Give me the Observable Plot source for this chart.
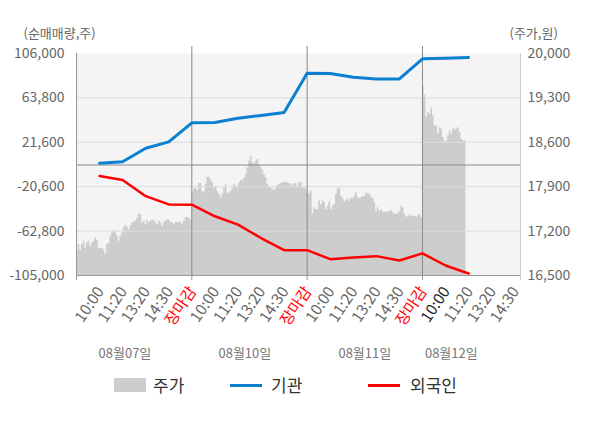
<!DOCTYPE html>
<html><head><meta charset="utf-8">
<script src="https://cdn.jsdelivr.net/npm/d3@7"></script>
<script src="https://cdn.jsdelivr.net/npm/@observablehq/plot@0.6"></script>
<style>
body{margin:0;background:#fff;font-family:"Noto Sans CJK KR",sans-serif;}
#wrap{position:relative;width:600px;height:428px;overflow:hidden;}
.lg{position:absolute;font-size:17px;color:#333;line-height:20px;}
.sw{position:absolute;}
</style></head><body>
<div id="wrap"><div id="chart"></div>
<div class="sw" style="left:114px;top:378px;width:32px;height:14px;background:#cdcdcd"></div>
<div class="lg" style="left:153px;top:375px">주가</div>
<div class="sw" style="left:230px;top:384px;width:32px;height:3px;background:#0b80d0"></div>
<div class="lg" style="left:271px;top:375px">기관</div>
<div class="sw" style="left:368px;top:384px;width:32px;height:3px;background:#ff0000"></div>
<div class="lg" style="left:410px;top:375px">외국인</div>
</div>
<script>
const days = ["08월07일","08월10일","08월11일","08월12일"];
const slotLabels = ["10:00","11:20","13:20","14:30","장마감"];
const leftTicks = [106000, 63800, 21600, -20600, -62800, -105000];
const rightTicks = [20000, 19300, 18600, 17900, 17200, 16500];

// 주가 (won), sampled through each session
const priceDay1 = [16900,16990,16900,16990,17040,16930,17010,17040,16960,17010,17040,17090,17050,16930,16920,16930,16900,16840,16990,17010,17120,17170,17200,17170,17120,17040,17120,17170,17250,17290,17260,17220,17280,17330,17340,17360,17400,17470,17460,17330,17360,17300,17370,17330,17360,17370,17370,17330,17300,17360,17330,17280,17330,17360,17380,17370,17340,17330,17300,17330,17340,17330,17340,17310,17360,17410,17420,17400,17370];
const priceDay2 = [17800,17860,17880,17840,17950,17950,17830,17800,17940,18050,18050,18010,17960,17880,17910,17830,17780,17720,17780,17880,17940,17800,17800,17830,17880,17940,17910,17880,17960,18000,17990,18030,18090,18200,18300,18380,18280,18260,18300,18330,18250,18200,18150,18090,18040,17940,17890,17880,17860,17840,17880,17920,17940,17950,17960,17970,17970,17960,17950,17940,17910,17950,17940,17890,17960,17970,17880,17880,17860];
const priceDay3 = [17800,17790,17830,17470,17570,17540,17540,17680,17620,17680,17650,17540,17590,17660,17540,17590,17620,17780,17860,17880,17750,17710,17660,17680,17710,17670,17720,17710,17750,17800,17730,17710,17730,17750,17750,17800,17790,17780,17730,17710,17650,17510,17570,17510,17540,17500,17490,17500,17490,17510,17520,17490,17470,17470,17470,17510,17590,17570,17460,17420,17430,17460,17430,17440,17430,17420,17450,17470,17410];
const priceDay4 = [19480,19340,19000,19070,19040,19140,19020,18860,18860,18730,18830,18810,18680,18600,18620,18700,18780,18730,18810,18790,18810,18830,18750,18650,18620,18630,18620];
const samplesPerDay = 69;

// 순매매량 (shares), at each time label
const instLine = [1600,3100,15900,22000,40100,40400,44400,47100,49900,87200,86900,83400,81800,81800,100900,101500,102200];
const foreignLine = [-10500,-14300,-29600,-37400,-37700,-48700,-56600,-69400,-80900,-80900,-89500,-87900,-86600,-90700,-84000,-95500,-103100];

// layout
const xMax = 19.25;
const dateLabelX = [2.1, 7.3, 12.5, 16.25];

const toLeft = d3.scaleLinear([16500, 20000], [-105000, 106000]);
const priceData = [priceDay1, priceDay2, priceDay3, priceDay4].flatMap((arr, d) =>
  arr.map((p, i) => ({x: d * 5 + i * 5 / samplesPerDay, price: p})));
const instData = instLine.map((v, i) => ({x: i + 1, v}));
const foreignData = foreignLine.map((v, i) => ({x: i + 1, v}));
const xTicks = [];
for (let d = 0; d < days.length; d++) for (let k = 0; k < slotLabels.length; k++) {
  const s = d * 5 + k + 1;
  if (s <= 19) xTicks.push({x: s, label: slotLabels[k], color: k === 4 ? "#ff0000" : (d === 3 && k === 0 ? "#222" : "#666")});
}
const dateData = days.map((t, i) => ({t, x: dateLabelX[i]}));
const fmt = v => Math.round(v).toLocaleString("en-US");

const chart = Plot.plot({
  width: 600, height: 365,
  marginTop: 53, marginBottom: 90, marginLeft: 76, marginRight: 80,
  x: {domain: [0, xMax], axis: null},
  y: {domain: [-105000, 106000], axis: null},
  style: {fontFamily: "'Noto Sans CJK KR', sans-serif", background: "transparent"},
  marks: [
    Plot.frame({fill: "#f4f4f4", stroke: null}),
    Plot.areaY(priceData, {x: "x", y1: -105000, y2: d => toLeft(d.price), curve: "step-after", fill: "#cdcdcd"}),
    Plot.ruleY(leftTicks.slice(1, -1), {stroke: "#dcdcdc", strokeWidth: 1}),
    Plot.ruleY([0], {stroke: "#8a8a8a"}),
    Plot.ruleX([5, 10, 15], {stroke: "#8a8a8a", insetTop: -7}),
    Plot.ruleX([0], {stroke: "#999"}),
    Plot.ruleX([xMax], {stroke: "#ccc", insetBottom: -5}),
    Plot.ruleY([-105000], {stroke: "#999"}),
    Plot.axisX({ticks: [0, 5, 10, 15], tickSize: 5, tickFormat: () => "", stroke: "#999", label: null}),
    Plot.line(instData, {x: "x", y: "v", stroke: "#0b80d0", strokeWidth: 3}),
    Plot.line(foreignData, {x: "x", y: "v", stroke: "#ff0000", strokeWidth: 2.5}),
    Plot.axisY({anchor: "left", ticks: leftTicks, tickSize: 0, tickPadding: 12, tickFormat: fmt, fontSize: 14, fill: "#666", label: null}),
    Plot.axisY({anchor: "right", ticks: rightTicks.map(toLeft), tickSize: 0, tickPadding: 7, tickFormat: v => fmt(toLeft.invert(v)), fontSize: 14, fill: "#666", label: null}),
    Plot.text(xTicks, {x: "x", y: -105000, text: "label", fill: "color", rotate: -56, textAnchor: "end", lineAnchor: "middle", dx: 1, dy: 13, fontSize: 15.5}),
    Plot.text(dateData, {x: "x", y: -105000, text: "t", dy: 78, fill: "#777", fontSize: 13}),
    Plot.text(["(순매매량,주)"], {frameAnchor: "top-left", textAnchor: "start", lineAnchor: "middle", dx: -53, dy: -20, fill: "#666", fontSize: 13}),
    Plot.text(["(주가,원)"], {frameAnchor: "top-right", textAnchor: "start", lineAnchor: "middle", dx: -11, dy: -20, fill: "#666", fontSize: 13})
  ]
});
document.getElementById("chart").appendChild(chart);
</script>
</body></html>
